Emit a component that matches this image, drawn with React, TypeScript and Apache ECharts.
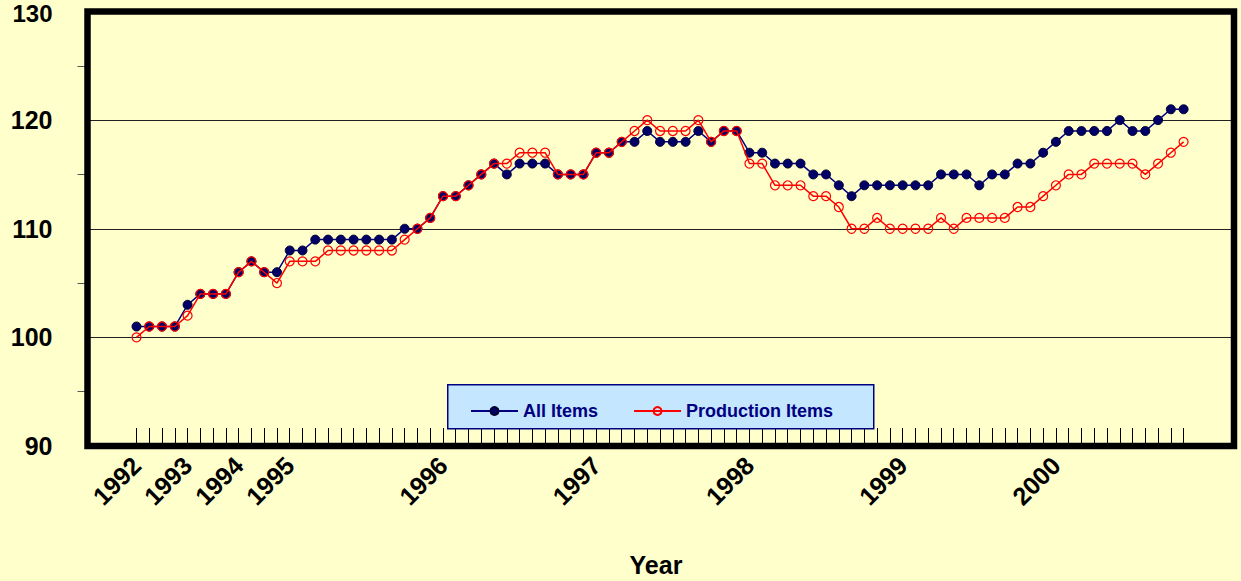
import React, { useEffect, useRef } from "react";
import * as echarts from "echarts";

// Periods: quarterly 1992–1994, then monthly Jan 1995 – Nov 2000
const quarterPeriods: string[] = [];
for (const y of [1992, 1993, 1994]) for (const q of [1, 2, 3, 4]) quarterPeriods.push(`${y} Q${q}`);
const monthPeriods: string[] = [];
for (let y = 1995; y <= 2000; y++) for (let m = 1; m <= 12; m++) if (!(y === 2000 && m === 12)) monthPeriods.push(`${y}-${String(m).padStart(2, "0")}`);
const categories: string[] = [...quarterPeriods, ...monthPeriods];

// tick labels shown under the axis (index -> label)
const yearLabelIndex: number[] = [0, 4, 8, 12, 24, 36, 48, 60, 72];
const yearLabelText: string[] = ["1992", "1993", "1994", "1995", "1996", "1997", "1998", "1999", "2000"];

const allItems: number[] = [
  101, 101, 101, 101, 103, 104, 104, 104, 106, 107, 106, 106,
  108, 108, 109, 109, 109, 109, 109, 109, 109, 110, 110, 111,
  113, 113, 114, 115, 116, 115, 116, 116, 116, 115, 115, 115,
  117, 117, 118, 118, 119, 118, 118, 118, 119, 118, 119, 119,
  117, 117, 116, 116, 116, 115, 115, 114, 113, 114, 114, 114,
  114, 114, 114, 115, 115, 115, 114, 115, 115, 116, 116, 117,
  118, 119, 119, 119, 119, 120, 119, 119, 120, 121, 121,
];

const productionItems: number[] = [
  100, 101, 101, 101, 102, 104, 104, 104, 106, 107, 106, 105,
  107, 107, 107, 108, 108, 108, 108, 108, 108, 109, 110, 111,
  113, 113, 114, 115, 116, 116, 117, 117, 117, 115, 115, 115,
  117, 117, 118, 119, 120, 119, 119, 119, 120, 118, 119, 119,
  116, 116, 114, 114, 114, 113, 113, 112, 110, 110, 111, 110,
  110, 110, 110, 111, 110, 111, 111, 111, 111, 112, 112, 113,
  114, 115, 115, 116, 116, 116, 116, 115, 116, 117, 118,
];

const seriesNames: string[] = ["All Items", "Production Items"];
const xAxisTitle = "Year";

const FONT = "'Liberation Sans', Arial, Helvetica, sans-serif";

export default function App() {
  const ref = useRef<HTMLDivElement>(null);

  useEffect(() => {
    if (!ref.current) return;
    const chart = echarts.init(ref.current, null, { renderer: "svg" });
    const gridTop = 11.5;
    const gridHeight = 434.5;
    const labelText = {
      fontFamily: FONT,
      fontWeight: "bold",
      fontSize: 25,
      color: "#000",
    };
    const option: any = {
      animation: false,
      backgroundColor: "#FFFFCC",
      grid: [
        {
          left: 87.5,
          right: 7,
          top: gridTop,
          height: gridHeight,
          show: true,
          borderColor: "#000",
          borderWidth: 6.5,
          backgroundColor: "transparent",
          containLabel: false,
          outerBoundsMode: "none",
          z: 10,
        },
        {
          left: 136.5,
          right: 57.4,
          top: gridTop,
          height: gridHeight,
          containLabel: false,
          outerBoundsMode: "none",
        },
      ],
      xAxis: [
        {
          type: "value",
          gridIndex: 0,
          min: 0,
          max: 1,
          show: false,
        },
        {
          type: "category",
          gridIndex: 1,
          data: categories,
          boundaryGap: false,
          axisLine: { show: true, lineStyle: { color: "#000", width: 1 } },
          axisTick: {
            show: true,
            inside: true,
            length: 18,
            interval: 0,
            lineStyle: { color: "#000", width: 1 },
          },
          axisLabel: {
            interval: 0,
            rotate: 45,
            margin: 15,
            ...labelText,
            formatter: (_v: string, idx: number) => {
              const k = yearLabelIndex.indexOf(idx);
              return k >= 0 ? yearLabelText[k] : "";
            },
          },
          splitLine: { show: false },
        },
      ],
      yAxis: [
        {
          type: "value",
          gridIndex: 0,
          min: 90,
          max: 130,
          interval: 10,
          axisLine: { show: false },
          axisTick: { show: false },
          minorTick: {
            show: true,
            splitNumber: 2,
            length: 10,
            inside: true,
            lineStyle: { color: "#555", width: 1 },
          },
          axisLabel: {
            margin: 35,
            ...labelText,
            formatter: (v: number) => (v === 130 ? `{top|${v}}` : `${v}`),
            rich: {
              top: {
                ...labelText,
                fontSize: 24,
                lineHeight: 22,
                padding: [4, 0, 0, 0],
              },
            },
          },
          splitLine: { show: true, lineStyle: { color: "#222", width: 1 } },
          minorSplitLine: { show: false },
        },
        {
          type: "value",
          gridIndex: 1,
          min: 90,
          max: 130,
          interval: 10,
          show: false,
          splitLine: { show: false },
        },
      ],
      legend: {
        left: 465,
        top: 397,
        data: seriesNames,
        itemWidth: 47,
        itemHeight: 10,
        itemGap: 35,
        textStyle: {
          fontFamily: FONT,
          fontWeight: "bold",
          fontSize: 18,
          color: "#000080",
        },
        z: 20,
      },
      graphic: [
        {
          type: "rect",
          left: 447,
          top: 384,
          shape: { width: 426, height: 44 },
          style: { fill: "#C4E6FF", stroke: "#000080", lineWidth: 1.5 },
          z: 15,
        },
        {
          type: "text",
          x: 656,
          y: 565,
          style: {
            text: xAxisTitle,
            fontFamily: FONT,
            fontWeight: "bold",
            fontSize: 25,
            fill: "#000",
            align: "center",
            verticalAlign: "middle",
          },
          z: 15,
        },
      ],
      series: [
        {
          name: seriesNames[0],
          type: "line",
          xAxisIndex: 1,
          yAxisIndex: 1,
          data: allItems,
          symbol: "circle",
          symbolSize: 9,
          lineStyle: { color: "#000080", width: 1.5 },
          itemStyle: { color: "#000066", borderColor: "#000033", borderWidth: 1 },
          z: 3,
        },
        {
          name: seriesNames[1],
          type: "line",
          xAxisIndex: 1,
          yAxisIndex: 1,
          data: productionItems,
          symbol: "circle",
          symbolSize: 9,
          lineStyle: { color: "#FF0000", width: 1.5 },
          itemStyle: { color: "rgba(0,0,0,0)", borderColor: "#FF0000", borderWidth: 1.2 },
          z: 4,
        },
      ],
    };
    chart.setOption(option);
    return () => chart.dispose();
  }, []);

  return (
    <div
      ref={ref}
      style={{ position: "absolute", left: 0, top: 0, width: 1241, height: 581 }}
    />
  );
}
